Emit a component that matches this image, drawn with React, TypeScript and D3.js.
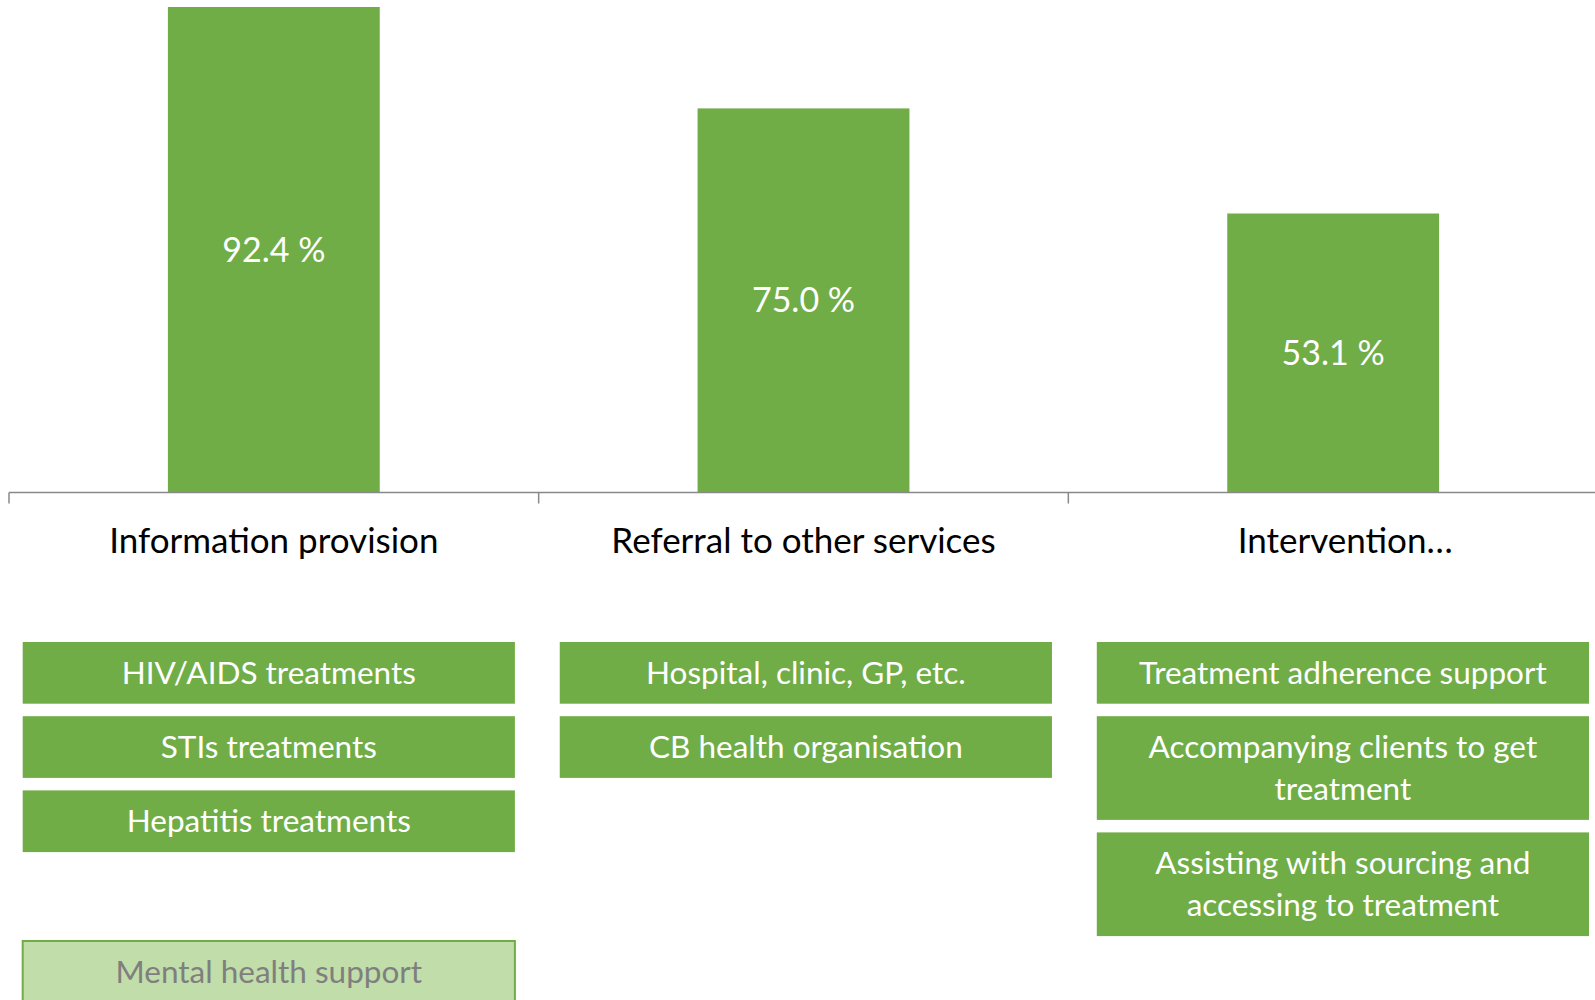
import React from "react";
import { scaleBand, scaleLinear } from "d3";

// categories on the x axis
const categories = ["Information provision", "Referral to other services", "Intervention…"];
const barValues = [92.4, 73.1, 53.1];
const valueLabels = ["92.4 %", "75.0 %", "53.1 %"];

// boxes under each category (one entry per box, one string per line)
const informationItems = [["HIV/AIDS treatments"], ["STIs treatments"], ["Hepatitis treatments"]];
const referralItems = [["Hospital, clinic, GP, etc."], ["CB health organisation"]];
const interventionItems = [
  ["Treatment adherence support"],
  ["Accompanying clients to get", "treatment"],
  ["Assisting with sourcing and", "accessing to treatment"],
];
const mutedItems = [["Mental health support"]];

const boxGroups = [informationItems, referralItems, interventionItems];

const W = 1595;
const H = 1000;
const GREEN = "#70AD47";
const LIGHT_GREEN = "#C1DDA9";
const FONT = "Lato, 'Open Sans', sans-serif";

function App() {
  const baseline = 492.5;
  const top = 7;

  const x = scaleBand<string>().domain(categories).range([9, 1598]).padding(0);
  const y = scaleLinear().domain([0, Math.max(...barValues)]).range([baseline, top]);
  const barW = x.bandwidth() * 0.4;

  const boxX = scaleBand<string>().domain(categories).range([22.7, 1589]).paddingInner(0.0835).paddingOuter(0);
  const lineH = 42;
  const boxPad = 19.7;
  const boxGap = 12.5;
  const boxTop = 642;
  const boxHeight = (lines: string[]) => boxPad + lineH * lines.length;

  const renderBox = (lines: string[], bx: number, by: number, muted: boolean, key: string) => {
    const h = boxHeight(lines);
    const cx = bx + boxX.bandwidth() / 2;
    const cy = by + h / 2;
    return (
      <g key={key}>
        <rect
          x={bx}
          y={by}
          width={boxX.bandwidth()}
          height={h}
          fill={muted ? LIGHT_GREEN : GREEN}
          stroke={muted ? GREEN : "none"}
          strokeWidth={muted ? 2 : 0}
        />
        {lines.map((ln, i) => (
          <text
            key={i}
            x={cx}
            y={cy + (i - (lines.length - 1) / 2) * lineH}
            dy="0.35em"
            textAnchor="middle"
            fontFamily={FONT}
            fontSize={31.5}
            fill={muted ? "#7F7F7F" : "#FFFFFF"}
          >
            {ln}
          </text>
        ))}
      </g>
    );
  };

  const boxes: React.ReactNode[] = [];
  boxGroups.forEach((items, gi) => {
    let by = boxTop;
    const bx = boxX(categories[gi]) as number;
    items.forEach((lines, i) => {
      boxes.push(renderBox(lines, bx, by, false, `b${gi}-${i}`));
      by += boxHeight(lines) + boxGap;
    });
  });
  // the muted box sits apart, below the first column
  const mutedTop = 941;
  mutedItems.forEach((lines, i) => {
    boxes.push(renderBox(lines, boxX(categories[0]) as number, mutedTop + i * (boxHeight(lines) + boxGap), true, `m${i}`));
  });

  const tickXs = categories.map((c) => x(c) as number);

  return (
    <svg width={W} height={H} style={{ position: "absolute", left: 0, top: 0, background: "#fff" }}>
      {categories.map((c, i) => (
        <rect
          key={c}
          x={(x(c) as number) + (x.bandwidth() - barW) / 2}
          y={y(barValues[i])}
          width={barW}
          height={baseline - y(barValues[i])}
          fill={GREEN}
        />
      ))}
      {categories.map((c, i) => (
        <text
          key={c}
          x={(x(c) as number) + x.bandwidth() / 2}
          y={(y(barValues[i]) + baseline) / 2}
          dy="0.35em"
          textAnchor="middle"
          fontFamily={FONT}
          fontSize={34}
          fill="#FFFFFF"
        >
          {valueLabels[i]}
        </text>
      ))}

      {/* category axis */}
      <line x1={x.range()[0]} x2={W} y1={baseline} y2={baseline} stroke="#898989" strokeWidth={1.5} />
      {tickXs.map((tx) => (
        <line key={tx} x1={tx} x2={tx} y1={baseline} y2={baseline + 11} stroke="#898989" strokeWidth={1.5} />
      ))}
      {categories.map((c, i) => (
        <text
          key={c}
          // the truncated last label sits a little right of its band centre
          x={(x(c) as number) + x.bandwidth() / 2 + (i === categories.length - 1 ? 12 : 0)}
          y={552.5}
          textAnchor="middle"
          fontFamily={FONT}
          fontSize={35}
          fill="#000000"
        >
          {c}
        </text>
      ))}

      {boxes}
    </svg>
  );
}

export default App;
